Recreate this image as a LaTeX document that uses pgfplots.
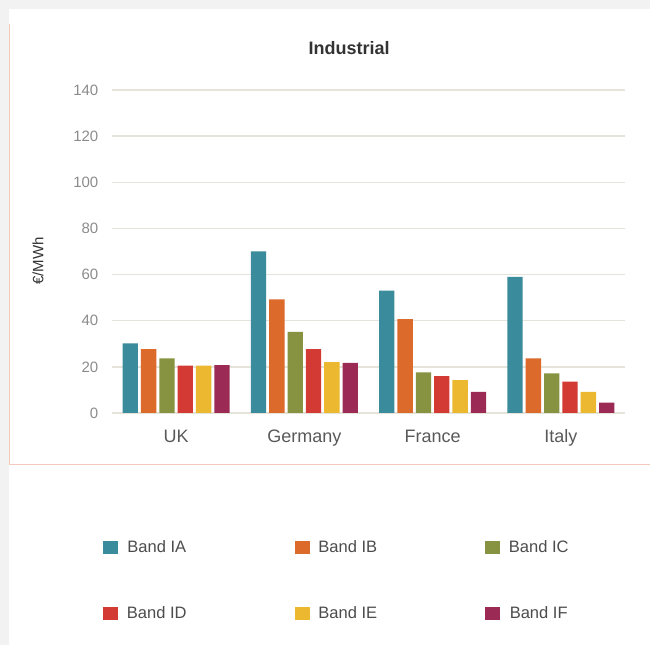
\documentclass[border=0pt]{standalone}
\usepackage{pgfplots}
\pgfplotsset{compat=1.18}
\usetikzlibrary{backgrounds}
\usepackage{fontspec}
\setmainfont{Liberation Sans}
\definecolor{cA}{HTML}{3A8B9B}
\definecolor{cB}{HTML}{DC6B2B}
\definecolor{cC}{HTML}{879340}
\definecolor{cD}{HTML}{D33A33}
\definecolor{cE}{HTML}{EBB82F}
\definecolor{cF}{HTML}{9B2A55}
\definecolor{bggray}{HTML}{F2F2F2}
\definecolor{bordercol}{HTML}{F2C9BC}
\definecolor{gridcol}{HTML}{E6E4DA}
\begin{document}
\begin{tikzpicture}
\begin{axis}[
  name=ax, at={(0,0)}, anchor=south west,
  scale only axis, width=384.75pt, height=242.25pt,
  xmin=-0.5, xmax=3.5, ymin=0, ymax=140,
  ybar=2.25pt, bar width=11.5pt,
  axis line style={draw=none},
  major tick length=0pt,
  ymajorgrids, grid style={gridcol, line width=1.1pt},
  xtick={0,1,2,3}, xticklabels={UK,Germany,France,Italy},
  ytick={0,20,...,140},
  /pgf/number format/assume math mode=true,
  yticklabel style={font=\fontsize{11.25}{13}\selectfont, color=black!45, xshift=-6.75pt},
  xticklabel style={font=\fontsize{13.5}{16}\selectfont, color=black!65, yshift=-9pt},
  title={Industrial},
  title style={at={(axis description cs:0.462,1.105)}, anchor=center, font=\bfseries\fontsize{13.5}{16}\selectfont, color=black!80},
  ylabel={€/MWh},
  ylabel style={at={(axis description cs:-0.144,0.47)}, anchor=center, font=\fontsize{11.25}{13}\selectfont, color=black!80},
  legend columns=3,
  legend image code/.code={\draw[#1,draw=none] (0pt,-4.875pt) rectangle (11.25pt,4.875pt);},
  legend style={draw=none, fill=none, at={(axis description cs:-0.0175,-0.387)}, anchor=north west, inner sep=0pt,
    font=\fontsize{12.4}{14}\selectfont, text=black!70, row sep=35pt,
    /tikz/every odd column/.append style={column sep=4.5pt},
    /tikz/every even column/.append style={column sep=79pt}},
]
\addplot[fill=cA, draw=none] coordinates {(0,30.2) (1,70) (2,53) (3,59)};
\addplot[fill=cB, draw=none] coordinates {(0,27.7) (1,49.3) (2,40.7) (3,23.7)};
\addplot[fill=cC, draw=none] coordinates {(0,23.7) (1,35.2) (2,17.6) (3,17.2)};
\addplot[fill=cD, draw=none] coordinates {(0,20.5) (1,27.7) (2,16) (3,13.6)};
\addplot[fill=cE, draw=none] coordinates {(0,20.5) (1,22) (2,14.3) (3,9.2)};
\addplot[fill=cF, draw=none] coordinates {(0,20.7) (1,21.7) (2,9.2) (3,4.5)};
\legend{Band IA,Band IB,Band IC,Band ID,Band IE,Band IF}
\end{axis}
\begin{scope}[on background layer, shift={(ax.south west)}, x=0.75pt, y=0.75pt]
\fill[bggray] (-112,-232) rectangle (538,413);
\fill[white] (-103,-232) rectangle (538,404);
\draw[bordercol, line width=0.75pt] (-102,389) -- (-102,-52) -- (538,-52);
\end{scope}
\pgfresetboundingbox
\begin{scope}[shift={(ax.south west)}, x=0.75pt, y=0.75pt]
\path[use as bounding box] (-112,-232) rectangle (538,413);
\end{scope}
\end{tikzpicture}
\end{document}
